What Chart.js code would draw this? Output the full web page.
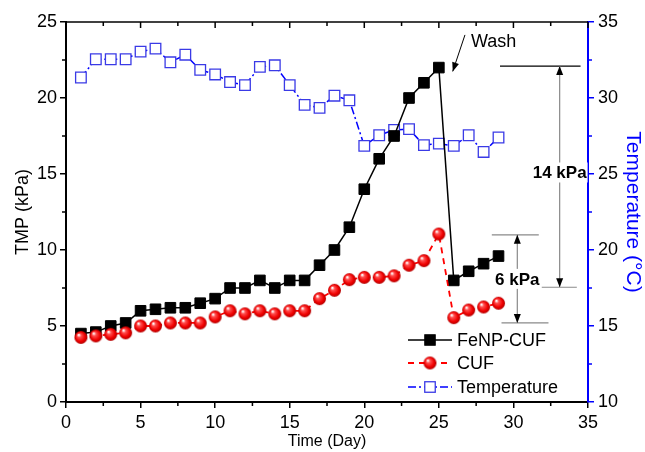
<!DOCTYPE html>
<html>
<head>
<meta charset="utf-8">
<script src="https://cdn.jsdelivr.net/npm/chart.js@4/dist/chart.umd.min.js"></script>
<style>
  html, body { margin: 0; padding: 0; background: #fff; }
  #wrap { width: 645px; height: 452px; }
</style>
</head>
<body>
<div id="wrap"><canvas id="tmpChart" width="645" height="452"></canvas></div>
<script>
const days = [1, 2, 3, 4, 5, 6, 7, 8, 9, 10, 11, 12, 13, 14, 15, 16, 17, 18, 19, 20, 21, 22, 23, 24, 25, 26, 27, 28, 29];
const fenpCuf = [4.5, 4.6, 5.0, 5.2, 6.0, 6.1, 6.2, 6.2, 6.5, 6.8, 7.5, 7.5, 8.0, 7.5, 8.0, 8.0, 9.0, 10.0, 11.5, 14.0, 16.0, 17.5, 20.0, 21.0, 22.0, 8.0, 8.6, 9.1, 9.6];
const cuf = [4.25, 4.35, 4.45, 4.55, 5.0, 5.0, 5.2, 5.2, 5.2, 5.6, 6.0, 5.8, 6.0, 5.8, 6.0, 6.0, 6.8, 7.35, 8.05, 8.2, 8.2, 8.3, 9.0, 9.3, 11.05, 5.55, 6.05, 6.25, 6.5];
const temperature = [31.35, 32.55, 32.55, 32.55, 33.05, 33.25, 32.35, 32.85, 31.85, 31.55, 31.05, 30.85, 32.05, 32.15, 30.85, 29.55, 29.35, 30.15, 29.85, 26.85, 27.55, 27.9, 27.95, 26.9, 27.0, 26.85, 27.55, 26.45, 27.4];

const xTicks = [0, 5, 10, 15, 20, 25, 30, 35];
const tmpTicks = [0, 5, 10, 15, 20, 25];
const tempTicks = [10, 15, 20, 25, 30, 35];

// annotation anchors, in data units (day, kPa)
const washLabel = [27.15, 23.7];
const washArrow = [[26.75, 24.15], [25.93, 21.75]];
const bracket14 = { top: 22.1, bottom: 7.55, x: 33.1, topSpan: [29.1, 34.5], bottomSpan: [31.9, 34.25], label: 15.1 };
const bracket6 = { top: 11.0, bottom: 5.2, x: 30.26, topSpan: [28.55, 31.7], bottomSpan: [29.2, 32.35], label: 8.1 };

const FONT = '"Liberation Sans", Arial, Helvetica, sans-serif';
const BLUE = '#0000ff';

function makeSphere(r) {
    const c = document.createElement('canvas');
    c.width = r * 2 + 2;
    c.height = r * 2 + 2;
    const g = c.getContext('2d');
    const cx = r + 1, cy = r + 1;
    const grad = g.createRadialGradient(cx - r * 0.35, cy - r * 0.4, 0.5, cx, cy, r);
    grad.addColorStop(0, '#ffffff');
    grad.addColorStop(0.25, '#ff5050');
    grad.addColorStop(0.7, '#f00000');
    grad.addColorStop(1, '#b00000');
    g.fillStyle = grad;
    g.beginPath();
    g.arc(cx, cy, r, 0, Math.PI * 2);
    g.fill();
    return c;
}
const sphere = makeSphere(6.5);

function toPoints(ys) {
    return days.map((d, i) => ({ x: d, y: ys[i] }));
}

function drawArrowHead(ctx, x, y, dir, color) {
    // dir: angle the arrow points to
    const len = 9, half = 3.5;
    ctx.save();
    ctx.translate(x, y);
    ctx.rotate(dir);
    ctx.fillStyle = color;
    ctx.beginPath();
    ctx.moveTo(0, 0);
    ctx.lineTo(-len, -half);
    ctx.lineTo(-len, half);
    ctx.closePath();
    ctx.fill();
    ctx.restore();
}

const axisExtras = {
    id: 'axisExtras',
    afterDraw(chart) {
        const { ctx, chartArea: a, scales } = chart;
        const xs = scales.x, ys = scales.y, y1 = scales.y1;
        ctx.save();
        ctx.lineWidth = 1.5;
        // top frame with inward ticks
        ctx.strokeStyle = '#000';
        ctx.beginPath();
        ctx.moveTo(a.left, a.top);
        ctx.lineTo(a.right, a.top);
        ctx.stroke();
        for (let v = 0; v <= 35; v += 2.5) {
            const px = xs.getPixelForValue(v);
            const major = v % 5 === 0;
            ctx.beginPath();
            ctx.moveTo(px, a.top);
            ctx.lineTo(px, a.top + (major ? 6 : 4));
            if (!major) {
                ctx.moveTo(px, a.bottom);
                ctx.lineTo(px, a.bottom + 4);
            }
            ctx.stroke();
        }
        for (let v = 2.5; v < 25; v += 5) {
            const py = ys.getPixelForValue(v);
            ctx.beginPath();
            ctx.moveTo(a.left - 4, py);
            ctx.lineTo(a.left, py);
            ctx.stroke();
        }
        ctx.strokeStyle = BLUE;
        for (let v = 12.5; v < 35; v += 5) {
            const py = y1.getPixelForValue(v);
            ctx.beginPath();
            ctx.moveTo(a.right, py);
            ctx.lineTo(a.right + 4, py);
            ctx.stroke();
        }
        ctx.restore();
    }
};

const annotations = {
    id: 'annotations',
    afterDatasetsDraw(chart) {
        const { ctx, scales } = chart;
        const X = v => scales.x.getPixelForValue(v);
        const Y = v => scales.y.getPixelForValue(v);
        ctx.save();

        // Wash
        ctx.font = '18px ' + FONT;
        ctx.fillStyle = '#000';
        ctx.textAlign = 'left';
        ctx.textBaseline = 'middle';
        ctx.fillText('Wash', X(washLabel[0]), Y(washLabel[1]));
        const ax0 = X(washArrow[0][0]), ay0 = Y(washArrow[0][1]);
        const ax1 = X(washArrow[1][0]), ay1 = Y(washArrow[1][1]);
        ctx.strokeStyle = '#000';
        ctx.lineWidth = 1;
        ctx.beginPath();
        ctx.moveTo(ax0, ay0);
        ctx.lineTo(ax1, ay1);
        ctx.stroke();
        drawArrowHead(ctx, ax1, ay1, Math.atan2(ay1 - ay0, ax1 - ax0), '#000');

        function bracket(b, text, topColor) {
            const xt = X(b.x), yt = Y(b.top), yb = Y(b.bottom);
            ctx.lineWidth = 1.2;
            ctx.strokeStyle = topColor;
            ctx.beginPath();
            ctx.moveTo(X(b.topSpan[0]), yt);
            ctx.lineTo(X(b.topSpan[1]), yt);
            ctx.stroke();
            ctx.strokeStyle = '#8a8a8a';
            ctx.beginPath();
            ctx.moveTo(X(b.bottomSpan[0]), yb);
            ctx.lineTo(X(b.bottomSpan[1]), yb);
            ctx.moveTo(xt, yt);
            ctx.lineTo(xt, yb);
            ctx.stroke();
            drawArrowHead(ctx, xt, yt, -Math.PI / 2, '#000');
            drawArrowHead(ctx, xt, yb, Math.PI / 2, '#000');
            ctx.font = 'bold 17px ' + FONT;
            ctx.textAlign = 'center';
            const w = ctx.measureText(text).width;
            const yl = Y(b.label);
            ctx.fillStyle = '#fff';
            ctx.fillRect(xt - w / 2 - 1, yl - 10, w + 2, 20);
            ctx.fillStyle = '#000';
            ctx.fillText(text, xt, yl + 1);
        }
        bracket(bracket14, '14 kPa', '#000');
        bracket(bracket6, '6 kPa', '#8a8a8a');

        ctx.restore();
    }
};

const legendBox = {
    id: 'legendBox',
    afterDraw(chart) {
        const { ctx, chartArea: a } = chart;
        const x0 = a.left + 342, x1 = a.left + 386, xm = (x0 + x1) / 2;
        const rows = [a.top + 318, a.top + 341, a.top + 365];
        ctx.save();
        ctx.font = '18px ' + FONT;
        ctx.textBaseline = 'middle';
        ctx.textAlign = 'left';
        chart.data.datasets.forEach((ds, i) => {
            const y = rows[i];
            ctx.strokeStyle = ds.borderColor;
            ctx.lineWidth = ds.borderWidth;
            ctx.setLineDash(ds.borderDash || []);
            ctx.beginPath();
            ctx.moveTo(x0, y);
            ctx.lineTo(x1, y);
            ctx.stroke();
            ctx.setLineDash([]);
            if (ds.pointStyle === 'rect') {
                const s = 10.5;
                ctx.fillStyle = ds.pointBackgroundColor;
                ctx.fillRect(xm - s / 2, y - s / 2, s, s);
                ctx.strokeStyle = ds.pointBorderColor;
                ctx.lineWidth = ds.pointBorderWidth;
                ctx.strokeRect(xm - s / 2, y - s / 2, s, s);
            } else {
                ctx.drawImage(sphere, xm - sphere.width / 2, y - sphere.height / 2);
            }
            ctx.fillStyle = '#000';
            ctx.fillText(ds.label, x1 + 5, y + 1);
        });
        ctx.restore();
    }
};

Chart.defaults.font.family = FONT;
Chart.defaults.color = '#000';

const ctx = document.getElementById('tmpChart').getContext('2d');
new Chart(ctx, {
    type: 'line',
    data: {
        datasets: [
            {
                label: 'FeNP-CUF',
                data: toPoints(fenpCuf),
                yAxisID: 'y',
                borderColor: '#000',
                borderWidth: 1.5,
                pointStyle: 'rect',
                pointRadius: 7.5,
                pointBackgroundColor: '#000',
                pointBorderColor: '#000',
                pointBorderWidth: 1,
                tension: 0,
                order: 2
            },
            {
                label: 'CUF',
                data: toPoints(cuf),
                yAxisID: 'y',
                borderColor: '#ff0000',
                borderWidth: 1.8,
                borderDash: [6, 5],
                pointStyle: sphere,
                pointRadius: 6.5,
                tension: 0,
                order: 1
            },
            {
                label: 'Temperature',
                data: toPoints(temperature),
                yAxisID: 'y1',
                borderColor: BLUE,
                borderWidth: 1.5,
                borderDash: [8, 3, 2, 3],
                pointStyle: 'rect',
                pointRadius: 7.5,
                pointBackgroundColor: '#fff',
                pointBorderColor: '#3a3ae6',
                pointBorderWidth: 1.3,
                tension: 0,
                order: 3
            }
        ]
    },
    options: {
        responsive: false,
        animation: false,
        layout: { padding: { top: 22, left: 0, right: 0, bottom: 0 } },
        plugins: {
            legend: { display: false },
            tooltip: { enabled: false }
        },
        scales: {
            x: {
                type: 'linear',
                min: 0,
                max: 35,
                afterBuildTicks: s => { s.ticks = xTicks.map(v => ({ value: v })); },
                ticks: { font: { size: 18 }, padding: 4, maxRotation: 0 },
                grid: { drawOnChartArea: false, tickLength: 6, color: '#000', lineWidth: 1.5 },
                border: { color: '#000', width: 2 },
                title: { display: true, text: 'Time (Day)', font: { size: 16 }, padding: { top: 0, bottom: 1 } },
                afterFit: s => { s.height = 50; }
            },
            y: {
                type: 'linear',
                position: 'left',
                min: 0,
                max: 25,
                afterBuildTicks: s => { s.ticks = tmpTicks.map(v => ({ value: v })); },
                ticks: { font: { size: 18 }, padding: 3 },
                grid: { drawOnChartArea: false, tickLength: 6, color: '#000', lineWidth: 1.5 },
                border: { color: '#000', width: 2 },
                title: { display: true, text: 'TMP (kPa)', font: { size: 18 }, padding: { top: 12, bottom: 0 } },
                afterFit: s => { s.width = 66; }
            },
            y1: {
                type: 'linear',
                position: 'right',
                min: 10,
                max: 35,
                afterBuildTicks: s => { s.ticks = tempTicks.map(v => ({ value: v })); },
                ticks: { font: { size: 18 }, padding: 4 },
                grid: { drawOnChartArea: false, tickLength: 6, color: BLUE, lineWidth: 1.5 },
                border: { color: BLUE, width: 2 },
                title: { display: true, text: 'Temperature (°C)', color: BLUE, font: { size: 21 }, padding: { top: 0, bottom: 0 } },
                afterFit: s => { s.width = 57; }
            }
        }
    },
    plugins: [axisExtras, annotations, legendBox]
});
</script>
</body>
</html>
